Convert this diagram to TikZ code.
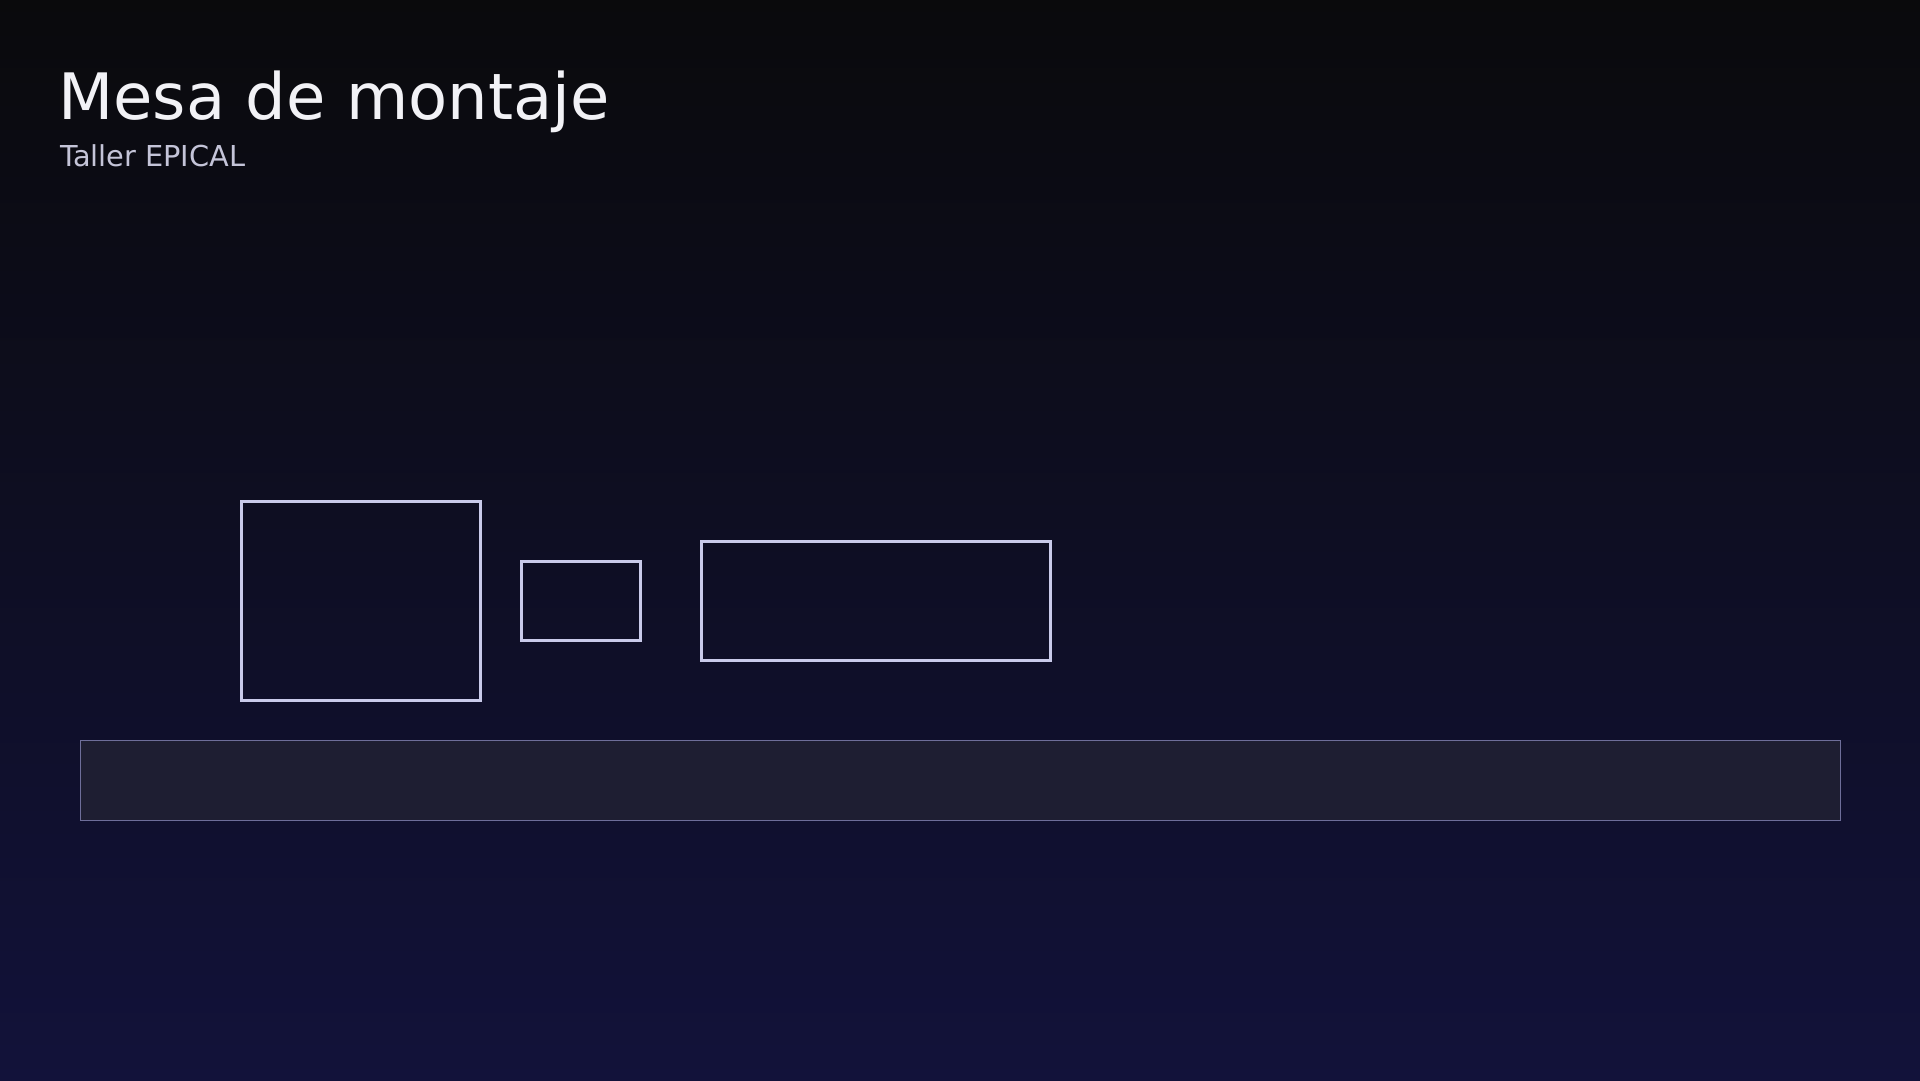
\documentclass[tikz,border=0pt]{standalone}
\usepackage{fontspec}
\setmainfont{DejaVu Sans}
\definecolor{bgtop}{HTML}{0A0A0C}
\definecolor{bgbot}{HTML}{12123A}
\definecolor{boxline}{HTML}{C9CAEA}
\definecolor{barfill}{HTML}{1E1E32}
\definecolor{barline}{HTML}{6E6E9A}
\definecolor{titlecol}{HTML}{F2F2F6}
\definecolor{subcol}{HTML}{C4C4D8}
\begin{document}
\begin{tikzpicture}[x=1bp,y=-1bp,
  part/.style={draw=boxline,line width=3bp,inner sep=0pt,outer sep=0pt,anchor=north west},
  bench/.style={draw=barline,fill=barfill,line width=1bp,inner sep=0pt,outer sep=0pt,anchor=north west},
  titletext/.style={anchor=base west,inner sep=0pt,text=titlecol,font=\fontsize{64bp}{76bp}\selectfont},
  subtext/.style={anchor=base west,inner sep=0pt,text=subcol,font=\fontsize{28.8bp}{34bp}\selectfont}]
\useasboundingbox (0,0) rectangle (1920,1080);
\shade[top color=bgtop,bottom color=bgbot] (0,0) rectangle (1920,1080);
\node[titletext] (title) at (58,119) {Mesa de montaje};
\node[subtext] (sub) at (60,166) {Taller EPICAL};
\node[part,minimum width=239bp,minimum height=199bp] (b1) at (241,501) {};
\node[part,minimum width=119bp,minimum height=79bp] (b2) at (521,561) {};
\node[part,minimum width=349bp,minimum height=119bp] (b3) at (701,541) {};
\node[bench,minimum width=1760bp,minimum height=80bp] (bar) at (80,740) {};
\end{tikzpicture}
\end{document}
